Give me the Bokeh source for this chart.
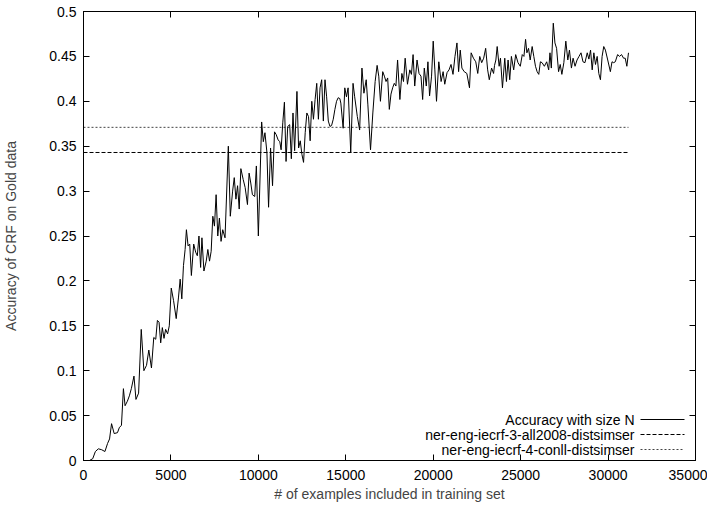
from bokeh.plotting import figure
from bokeh.models import (LinearAxis, FixedTicker, CustomJSTickFormatter, Label, Arrow, Range1d,
                          CustomLabelingPolicy)
from bokeh.embed import file_html
from bokeh.resources import INLINE

# ---- data ----
n_examples = [0, 340, 528, 679, 849, 1038, 1226, 1377, 1490, 1604, 1755, 1943, 2057, 2170, 2283, 2377, 2509, 2623,
              2736, 2887, 3000, 3151, 3302, 3453, 3604, 3736, 3887, 4019, 4132, 4226, 4321, 4415, 4509, 4604, 4698,
              4811, 4906, 5019, 5151, 5302, 5434, 5528, 5623, 5717, 5811,
              5886, 5981, 6075, 6170, 6302, 6415, 6509, 6603, 6698, 6773, 6886, 7018, 7112, 7207, 7301, 7396, 7490,
              7584, 7679, 7773, 7867, 7962, 8094, 8283, 8396, 8528, 8622, 8717, 8811, 8905, 9000, 9132, 9245, 9377,
              9471, 9566, 9660, 9792, 9886, 10000, 10188, 10283, 10377, 10490, 10584, 10698, 10811, 10924, 11018,
              11132, 11226, 11302, 11396, 11490, 11584, 11679, 11792, 11886, 11981, 12075,
              12207, 12302, 12396, 12490, 12585, 12679, 12773, 12868, 12962, 13056, 13151, 13245, 13339, 13434, 13528,
              13622, 13717, 13811, 13905, 14000, 14094, 14188, 14283, 14377, 14471, 14566, 14660, 14717, 14849, 14943,
              15038, 15132, 15283, 15415, 15509, 15660, 15792, 15924, 16037, 16169, 16264, 16415, 16547, 16679, 16792,
              16886, 16981, 17113, 17207, 17301, 17396, 17490,
              17584, 17679, 17773, 17867, 17962, 18094, 18207, 18301, 18396, 18528, 18660, 18754, 18849, 18943, 19075,
              19188, 19301, 19396, 19490, 19603, 19698, 19792, 19905, 20000, 20094, 20188, 20320, 20452, 20566, 20660,
              20792, 20905, 21018, 21132, 21245, 21358, 21452, 21547, 21641, 21773, 21924, 22075, 22169, 22301, 22433,
              22547, 22660, 22773, 22886, 23000, 23113, 23207, 23339, 23452,
              23507, 23583, 23658, 23771, 23847, 23960, 24092, 24188, 24282, 24376, 24471, 24602, 24716, 24848, 24980,
              25093, 25188, 25282, 25357, 25452, 25546, 25659, 25753, 25848, 25942, 26036, 26131, 26225, 26357, 26489,
              26603, 26678, 26754, 26867, 26961, 27056, 27169, 27263, 27358, 27471, 27584, 27697, 27791, 27904, 27999,
              28112, 28225, 28338, 28452, 28565, 28678,
              28809, 28903, 28998, 29092, 29187, 29281, 29376, 29470, 29564, 29659, 29753, 29848, 29980, 30131, 30225,
              30319, 30413, 30545, 30658, 30772, 30885, 30980, 31074, 31168]

accuracy = [0.0, 0.0, 0.002, 0.010, 0.013, 0.012, 0.010, 0.019, 0.024, 0.041, 0.030, 0.031, 0.037, 0.039, 0.080, 0.061,
            0.066, 0.072, 0.080, 0.094, 0.068, 0.075, 0.146, 0.100, 0.106, 0.123, 0.103, 0.137, 0.135, 0.156, 0.154,
            0.131, 0.148, 0.136, 0.146, 0.141, 0.150, 0.192, 0.178, 0.158, 0.182, 0.202, 0.180, 0.217, 0.235,
            0.257, 0.239, 0.241, 0.206, 0.241, 0.232, 0.228, 0.250, 0.215, 0.248, 0.211, 0.222, 0.235, 0.222, 0.233,
            0.272, 0.261, 0.296, 0.250, 0.270, 0.244, 0.257, 0.248, 0.350, 0.272, 0.300, 0.315, 0.291, 0.306, 0.280,
            0.325, 0.313, 0.304, 0.285, 0.320, 0.309, 0.296, 0.294, 0.328, 0.250, 0.377, 0.355, 0.365, 0.343, 0.282,
            0.348, 0.306, 0.366, 0.363, 0.357, 0.355, 0.346, 0.376, 0.399, 0.333, 0.372, 0.374, 0.336, 0.387, 0.345,
            0.411, 0.348, 0.356, 0.341, 0.332, 0.365, 0.387, 0.383, 0.356, 0.400, 0.380, 0.402, 0.420, 0.380, 0.415,
            0.424, 0.378, 0.424, 0.405, 0.378, 0.372, 0.373, 0.380, 0.391, 0.400, 0.404, 0.403, 0.398, 0.370, 0.415,
            0.405, 0.415, 0.343, 0.420, 0.405, 0.383, 0.368, 0.437, 0.409, 0.424, 0.396, 0.346, 0.387, 0.422, 0.440,
            0.428, 0.400, 0.433, 0.428, 0.422, 0.426, 0.391,
            0.408, 0.415, 0.420, 0.417, 0.446, 0.402, 0.431, 0.422, 0.448, 0.419, 0.435, 0.430, 0.452, 0.417, 0.446,
            0.431, 0.428, 0.402, 0.437, 0.417, 0.444, 0.406, 0.428, 0.467, 0.435, 0.400, 0.444, 0.422, 0.433, 0.419,
            0.432, 0.435, 0.441, 0.430, 0.450, 0.465, 0.433, 0.457, 0.437, 0.433, 0.431, 0.415, 0.454, 0.448, 0.444,
            0.431, 0.450, 0.443, 0.448, 0.459, 0.435, 0.424, 0.437, 0.431,
            0.440, 0.446, 0.461, 0.439, 0.448, 0.415, 0.448, 0.422, 0.446, 0.424, 0.450, 0.435, 0.452, 0.443, 0.439,
            0.452, 0.450, 0.469, 0.454, 0.459, 0.446, 0.461, 0.450, 0.439, 0.433, 0.430, 0.444, 0.443, 0.439, 0.444,
            0.435, 0.454, 0.437, 0.487, 0.465, 0.459, 0.433, 0.441, 0.430, 0.443, 0.467, 0.446, 0.457, 0.437, 0.448,
            0.439, 0.446, 0.450, 0.454, 0.444, 0.443,
            0.454, 0.447, 0.457, 0.435, 0.454, 0.441, 0.450, 0.431, 0.424, 0.450, 0.461, 0.457, 0.446, 0.433, 0.444,
            0.443, 0.444, 0.452, 0.450, 0.452, 0.448, 0.448, 0.439, 0.454]

baseline_all2008 = 0.343
baseline_conll = 0.371

series_names = ["Accuracy with size N",
                "ner-eng-iecrf-3-all2008-distsimser",
                "ner-eng-iecrf-4-conll-distsimser"]

x_ticks = [0, 5000, 10000, 15000, 20000, 25000, 30000, 35000]
y_ticks = [0, 0.05, 0.1, 0.15, 0.2, 0.25, 0.3, 0.35, 0.4, 0.45, 0.5]

FONT = "Liberation Sans"
FS = "14px"

p = figure(width=707, height=504, x_range=Range1d(0, 35000), y_range=Range1d(0, 0.5),
           output_backend="svg", toolbar_location=None,
           min_border_left=77, min_border_right=12, min_border_top=11, min_border_bottom=43)
p.grid.visible = False
p.outline_line_color = "black"
p.background_fill_color = "white"
p.border_fill_color = "white"

yfmt = CustomJSTickFormatter(code="return String(Number(tick.toFixed(2)));")
hide_all = CustomLabelingPolicy(code="""
const out = [];
for (const i of indices) out.push(i);
for (const i of out) indices.unset(i);
return indices;
""")

def style_axis(ax, labels=True):
    ax.major_tick_in = 6
    ax.major_tick_out = 0
    ax.minor_tick_in = 0
    ax.minor_tick_out = 0
    ax.axis_line_color = "black"
    ax.major_tick_line_color = "black"
    ax.major_label_text_font = FONT
    ax.major_label_text_color = "black"
    if labels:
        ax.major_label_text_font_size = FS
        ax.major_label_standoff = 7
    else:
        ax.major_label_text_font_size = "0px"
        ax.major_label_standoff = 0
        ax.major_label_policy = hide_all

xa = p.xaxis[0]
xa.ticker = FixedTicker(ticks=x_ticks)
style_axis(xa)
xa.major_label_standoff = 9
xa.axis_label = "# of examples included in training set"
xa.axis_label_text_font = FONT
xa.axis_label_text_font_size = FS
xa.axis_label_text_font_style = "normal"
xa.axis_label_standoff = 3

ya = p.yaxis[0]
ya.ticker = FixedTicker(ticks=y_ticks)
ya.formatter = yfmt
style_axis(ya)
ya.axis_label = "Accuracy of CRF on Gold data"
ya.axis_label_text_font = FONT
ya.axis_label_text_font_size = FS
ya.axis_label_text_font_style = "normal"
ya.axis_label_standoff = 27

top = LinearAxis(ticker=FixedTicker(ticks=x_ticks))
style_axis(top, labels=False)
p.add_layout(top, "above")
right = LinearAxis(ticker=FixedTicker(ticks=y_ticks))
style_axis(right, labels=False)
p.add_layout(right, "right")

x0, x1 = n_examples[0], n_examples[-1]
p.line([x0, x1], [baseline_all2008, baseline_all2008], line_color="black", line_width=1, line_dash="4 2")
p.line([x0, x1], [baseline_conll, baseline_conll], line_color="#444444", line_width=1, line_dash="2 2")
p.line(n_examples, accuracy, line_color="black", line_width=1)

# gnuplot-style key: text right aligned, sample to the right
dashes = ["solid", "4 2", "2 2"]
colors = ["black", "black", "#444444"]
row_y = [41, 26, 11]
for name, dash, col, yy in zip(series_names, dashes, colors, row_y):
    p.add_layout(Label(x=551, y=yy, x_units="screen", y_units="screen", text=name,
                       text_align="right", text_baseline="middle",
                       text_font=FONT, text_font_size=FS, text_color="black"))
    p.add_layout(Arrow(end=None, x_start=557, y_start=yy, x_end=601, y_end=yy,
                       start_units="screen", end_units="screen",
                       line_color=col, line_width=1, line_dash=dash))

open("out.html", "w").write(file_html(p, INLINE))
